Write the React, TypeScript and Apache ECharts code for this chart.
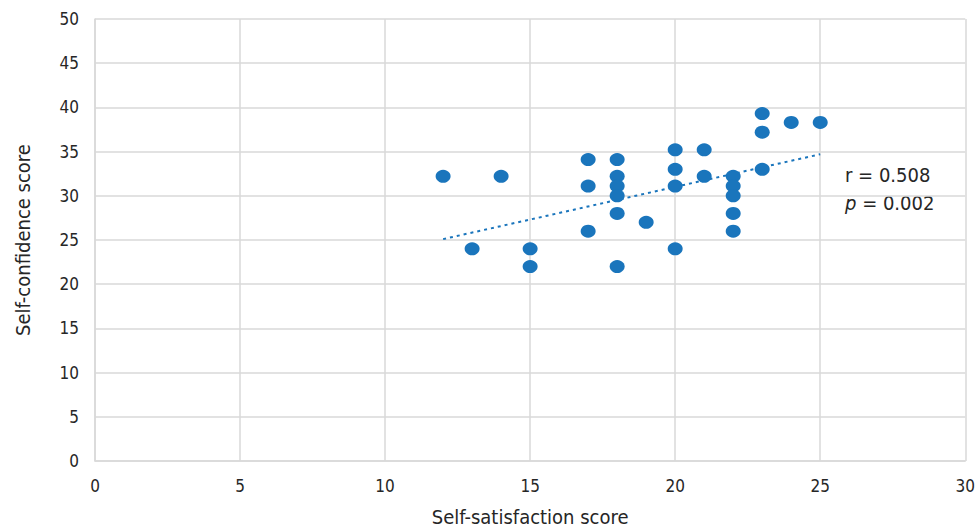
import React, { useEffect, useRef } from "react";
import * as echarts from "echarts";

const xValues = [12, 13, 14, 15, 15, 17, 17, 17, 18, 18, 18, 18, 18, 18, 19, 20, 20, 20, 20, 21, 21, 22, 22, 22, 22, 22, 23, 23, 23, 24, 25];
const yValues = [32.2, 24, 32.2, 24, 22, 34.1, 31.1, 26, 34.1, 32.2, 31.1, 30, 28, 22, 27, 35.2, 33, 31.1, 24, 35.2, 32.2, 32.2, 31.1, 30, 28, 26, 39.3, 37.2, 33, 38.3, 38.3];
const trendX = [12, 25];
const trendY = [25.1, 34.7];
const xTicks = [0, 5, 10, 15, 20, 25, 30];
const yTicks = [0, 5, 10, 15, 20, 25, 30, 35, 40, 45, 50];
const xTitle = "Self-satisfaction score";
const yTitle = "Self-confidence score";
const rText = "r = 0.508";
const pValue = " = 0.002";

const FONT = "'Liberation Sans Narrow', 'DejaVu Sans Condensed', 'Roboto Condensed', sans-serif";

export default function App() {
  const ref = useRef<HTMLDivElement>(null);
  useEffect(() => {
    document.body.style.margin = "0";
    if (!ref.current) return;
    const chart = echarts.init(ref.current, undefined, { renderer: "svg" });
    const points = xValues.map((x, i) => [x, yValues[i]]);
    const trend = trendX.map((x, i) => [x, trendY[i]]);
    chart.setOption({
      animation: false,
      backgroundColor: "#ffffff",
      grid: { left: 95, right: 7, top: 19, bottom: 71, containLabel: false },
      xAxis: {
        type: "value",
        min: xTicks[0],
        max: xTicks[xTicks.length - 1],
        interval: 5,
        name: xTitle,
        nameLocation: "middle",
        nameGap: 46,
        nameTextStyle: { fontFamily: FONT, fontSize: 20, color: "#262626" },
        axisLine: { show: true, lineStyle: { color: "#d9d9d9", width: 1.5 } },
        axisTick: { show: false },
        axisLabel: { fontFamily: FONT, fontSize: 17, color: "#262626", margin: 16 },
        splitLine: { show: true, lineStyle: { color: "#d9d9d9", width: 1.5 } },
      },
      yAxis: {
        type: "value",
        min: yTicks[0],
        max: yTicks[yTicks.length - 1],
        interval: 5,
        name: yTitle,
        nameLocation: "middle",
        nameGap: 62,
        nameTextStyle: { fontFamily: FONT, fontSize: 20, color: "#262626" },
        axisLine: { show: true, lineStyle: { color: "#d9d9d9", width: 1.5 } },
        axisTick: { show: false },
        axisLabel: { fontFamily: FONT, fontSize: 17, color: "#262626", margin: 16 },
        splitLine: { show: true, lineStyle: { color: "#d9d9d9", width: 1.5 } },
      },
      series: [
        {
          type: "line",
          data: trend,
          symbol: "none",
          lineStyle: { color: "#1a75bc", width: 2, type: [3, 4] },
          z: 2,
        },
        {
          type: "scatter",
          data: points,
          symbol: "circle",
          symbolSize: [15, 13],
          itemStyle: { color: "#1a75bc", opacity: 1 },
          z: 3,
        },
      ],
      graphic: [
        {
          type: "text",
          left: 845,
          top: 165,
          style: { text: rText, fontFamily: FONT, fontSize: 20, fill: "#262626" },
        },
        {
          type: "text",
          left: 845,
          top: 193,
          style: {
            text: "{i|p}{n|" + pValue + "}",
            rich: {
              i: { fontFamily: FONT, fontSize: 20, fontStyle: "italic", fill: "#262626", color: "#262626" },
              n: { fontFamily: FONT, fontSize: 20, fill: "#262626", color: "#262626" },
            },
          },
        },
      ],
    });
    return () => chart.dispose();
  }, []);
  return <div ref={ref} style={{ width: 978, height: 532 }} />;
}
